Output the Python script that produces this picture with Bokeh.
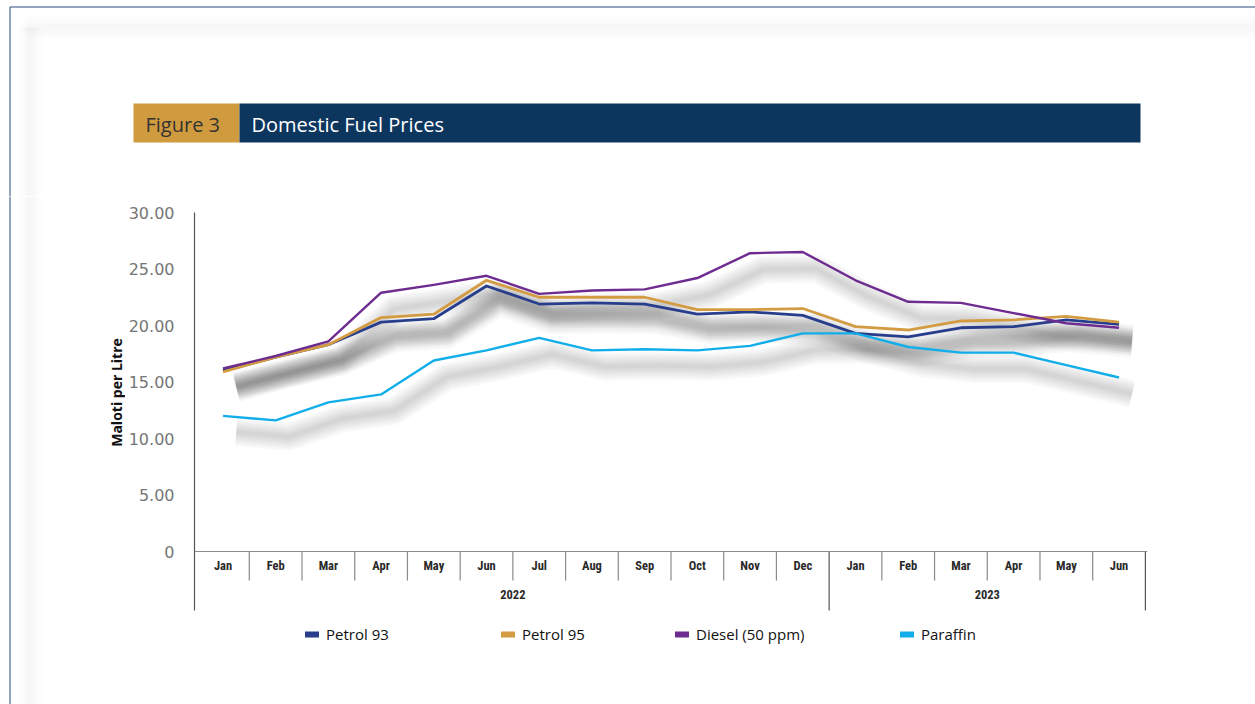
from bokeh.plotting import figure
from bokeh.layouts import column, row
from bokeh.models import (FactorRange, Range1d, ColumnDataSource, FixedTicker, Span,
                          Legend, LegendItem)
from bokeh.transform import dodge
from bokeh.core.properties import value
from bokeh.embed import file_html
from bokeh.resources import INLINE
import math

# ---------------- data ----------------
years = ["2022", "2023"]
months_2022 = ["Jan", "Feb", "Mar", "Apr", "May", "Jun", "Jul", "Aug", "Sep", "Oct", "Nov", "Dec"]
months_2023 = ["Jan", "Feb", "Mar", "Apr", "May", "Jun"]

petrol_93 = [16.0, 17.2, 18.3, 20.3, 20.6, 23.5, 21.9, 22.0, 21.9, 21.0, 21.2, 20.9,
             19.3, 19.0, 19.8, 19.9, 20.5, 20.1]
petrol_95 = [15.9, 17.2, 18.3, 20.7, 21.0, 24.0, 22.5, 22.5, 22.5, 21.4, 21.4, 21.5,
             19.9, 19.6, 20.4, 20.5, 20.8, 20.3]
diesel_50 = [16.2, 17.3, 18.6, 22.9, 23.6, 24.4, 22.8, 23.1, 23.2, 24.2, 26.4, 26.5,
             24.0, 22.1, 22.0, 21.1, 20.2, 19.8]
paraffin = [12.0, 11.6, 13.2, 13.9, 16.9, 17.8, 18.9, 17.8, 17.9, 17.8, 18.2, 19.3,
            19.3, 18.1, 17.6, 17.6, 16.5, 15.4]

series_names = ["Petrol 93", "Petrol 95", "Diesel (50 ppm)", "Paraffin"]
series_colors = ["#283E8C", "#D39C43", "#6E2B90", "#12AEEA"]

y_ticks = [0, 5, 10, 15, 20, 25, 30]
y_tick_labels = ["0", "5.00", "10.00", "15.00", "20.00", "25.00", "30.00"]

title_tag = "Figure 3"
title_text = "Domestic Fuel Prices"
y_title = "Maloti per Litre"

# ---------------- layout constants (pixels) ----------------
PAGE_W, PAGE_H = 1255, 704
TOP_H = 196                      # banner strip height
LEFT_W = 125                     # strip holding the y title
AXIS_W = 67                      # left panel with the y axis
RIGHT_PAD = 108
CH_H = PAGE_H - TOP_H
PX_PER_UNIT = 11.3
Y0_PAGE = 551                    # page y of value 0
Y_BOTTOM = -(PAGE_H - Y0_PAGE) / PX_PER_UNIT
Y_TOP = (Y0_PAGE - TOP_H) / PX_PER_UNIT
AXIS_END = -(610 - Y0_PAGE) / PX_PER_UNIT   # bottom of the category table
BORDER = "#2B4B7C"
GRID_GREY = "#8a8a8a"


def style(p):
    p.outline_line_color = None
    p.grid.visible = False
    p.background_fill_color = "white"
    p.border_fill_color = "white"


# ---------------- banner strip ----------------
top = figure(width=PAGE_W, height=TOP_H, x_range=Range1d(0, PAGE_W), y_range=Range1d(TOP_H, 0),
             output_backend="svg", toolbar_location=None, min_border=0,
             x_axis_location=None, y_axis_location=None)
style(top)
# soft card glow
for w, a in [(22, 0.009), (14, 0.010), (7, 0.012)]:
    top.segment(x0=[30], y0=[27], x1=[PAGE_W + 20], y1=[27], line_color="black",
                line_alpha=a, line_width=w, line_cap="round")
    top.segment(x0=[30], y0=[27], x1=[30], y1=[TOP_H + 20], line_color="black",
                line_alpha=a, line_width=w, line_cap="butt")
top.segment(x0=[9.5], y0=[6.5], x1=[PAGE_W + 5], y1=[6.5], line_color=BORDER, line_width=1)
top.segment(x0=[9.5], y0=[6.5], x1=[9.5], y1=[TOP_H + 5], line_color=BORDER, line_width=1)
top.quad(left=[133], right=[239], top=[103], bottom=[142], fill_color="#D09A3E", line_color=None)
top.quad(left=[239], right=[1140], top=[103], bottom=[142], fill_color="#0D365F", line_color=None)
top.text(x=[145], y=[123.5], text=[title_tag], text_font=value("Open Sans"),
         text_font_size="20px", text_color="#333333", text_baseline="middle", text_align="left")
top.text(x=[251], y=[123.5], text=[title_text], text_font=value("Open Sans"),
         text_font_size="20px", text_color="white", text_baseline="middle", text_align="left")

# ---------------- shared y range ----------------
y_rng = Range1d(Y_BOTTOM, Y_TOP)

# ---------------- left strip with y title ----------------
left = figure(width=LEFT_W, height=CH_H, x_range=Range1d(0, LEFT_W), y_range=y_rng,
              output_backend="svg", toolbar_location=None, min_border=0,
              x_axis_location=None, y_axis_location=None)
style(left)
for w, a in [(22, 0.009), (14, 0.010), (7, 0.012)]:
    left.add_layout(Span(location=30, dimension="height", line_color="black",
                         line_alpha=a, line_width=w))
left.add_layout(Span(location=9.5, dimension="height", line_color=BORDER, line_width=1))
left.text(x=[116], y=[(Y0_PAGE - 392) / PX_PER_UNIT], text=[y_title], angle=math.pi / 2,
          text_font=value("Open Sans"), text_font_style="bold", text_font_size="14px",
          text_color="#111111", text_baseline="middle", text_align="center")

# ---------------- chart ----------------
factors = [(years[0], m) for m in months_2022] + [(years[1], m) for m in months_2023]
PAD = 0.04
x_range = FactorRange(factors=factors, factor_padding=0, group_padding=0,
                      subgroup_padding=0, range_padding=PAD, range_padding_units="absolute")
p = figure(width=PAGE_W - LEFT_W, height=CH_H, x_range=x_range, y_range=y_rng,
           output_backend="svg", toolbar_location=None, x_axis_location=None,
           min_border_left=AXIS_W, min_border_right=RIGHT_PAD, min_border_top=0,
           min_border_bottom=0)
style(p)

ax = p.yaxis[0]
ax.ticker = FixedTicker(ticks=y_ticks)
ax.bounds = (AXIS_END, 30)
ax.major_label_overrides = {t: l for t, l in zip(y_ticks, y_tick_labels)}
ax.major_tick_line_color = None
ax.minor_tick_line_color = None
ax.axis_line_color = "#555555"
ax.axis_line_width = 1.2
ax.major_label_text_font = "DejaVu Sans"
ax.major_label_text_font_size = "16px"
ax.major_label_text_color = "#767676"
ax.major_label_standoff = 14

src = ColumnDataSource(dict(x=factors, p93=petrol_93, p95=petrol_95, d50=diesel_50, par=paraffin))
cols = ["p93", "p95", "d50", "par"]

# soft offset shadows under the lines
for c in cols:
    for w in [28, 24, 20, 16, 12, 8, 4]:
        p.line(x=dodge("x", 0.25, range=p.x_range), y=dodge(c, -1.45), source=src,
               line_width=w, line_color="black", line_alpha=0.024,
               line_join="round", line_cap="butt")

# category table under the plot
p.add_layout(Span(location=0, dimension="width", line_color=GRID_GREY, line_width=1.2))
n22 = len(months_2022)
sep_src = ColumnDataSource(dict(x=[f for i, f in enumerate(factors) if i not in (0, n22)]))
p.segment(x0=dodge("x", -0.5, range=p.x_range), y0=0, x1=dodge("x", -0.5, range=p.x_range),
          y1=-2.57, source=sep_src, line_color=GRID_GREY, line_width=1.2)
ysep_src = ColumnDataSource(dict(x=[factors[n22]]))
p.segment(x0=dodge("x", -0.5, range=p.x_range), y0=0, x1=dodge("x", -0.5, range=p.x_range),
          y1=AXIS_END, source=ysep_src, line_color="#555555", line_width=1.2)
yend_src = ColumnDataSource(dict(x=[factors[-1]]))
p.segment(x0=dodge("x", 0.5, range=p.x_range), y0=0, x1=dodge("x", 0.5, range=p.x_range),
          y1=AXIS_END, source=yend_src, line_color="#555555", line_width=1.2)

CAT_FONT = value("Roboto Condensed, DejaVu Sans Condensed, Roboto")
mon_src = ColumnDataSource(dict(x=factors, t=[f[1] for f in factors]))
p.text(x="x", y=-(565 - Y0_PAGE) / PX_PER_UNIT, text="t", source=mon_src, text_font=CAT_FONT,
       text_font_style="bold", text_font_size="12.5px", text_align="center",
       text_baseline="middle", text_color="#2a2a2a")
yr_src = ColumnDataSource(dict(x=years, t=years))
p.text(x="x", y=-(594 - Y0_PAGE) / PX_PER_UNIT, text="t", source=yr_src, text_font=CAT_FONT,
       text_font_style="bold", text_font_size="12.5px", text_align="center",
       text_baseline="middle", text_color="#2a2a2a")

# series lines
widths = [2.8, 2.8, 2.4, 2.4]
for c, col, w in zip(cols, series_colors, widths):
    p.line(x="x", y=c, source=src, line_width=w, line_color=col, line_join="round")

# legend: one item per box, placed like the original
FRAME_LEFT = LEFT_W + AXIS_W
leg_x = [303, 499, 673, 898]
off_view = [Y_BOTTOM - 50, Y_BOTTOM - 50]
for name, col, lx in zip(series_names, series_colors, leg_x):
    key_src = ColumnDataSource(dict(x=factors[:2], y=off_view))
    dummy = p.line(x="x", y="y", source=key_src, line_width=6, line_color=col,
                   line_cap="round")
    lg = Legend(items=[LegendItem(label=name, renderers=[dummy])],
                location=(lx - FRAME_LEFT, PAGE_H - 644), orientation="horizontal",
                border_line_color=None, background_fill_alpha=0, padding=0, margin=0,
                glyph_width=14, glyph_height=12, label_height=20, label_standoff=7,
                label_text_font="Open Sans", label_text_font_size="15px",
                label_text_color="#111111")
    p.add_layout(lg)

layout = column(top, row(left, p))
open("out.html", "w").write(file_html(layout, INLINE))
